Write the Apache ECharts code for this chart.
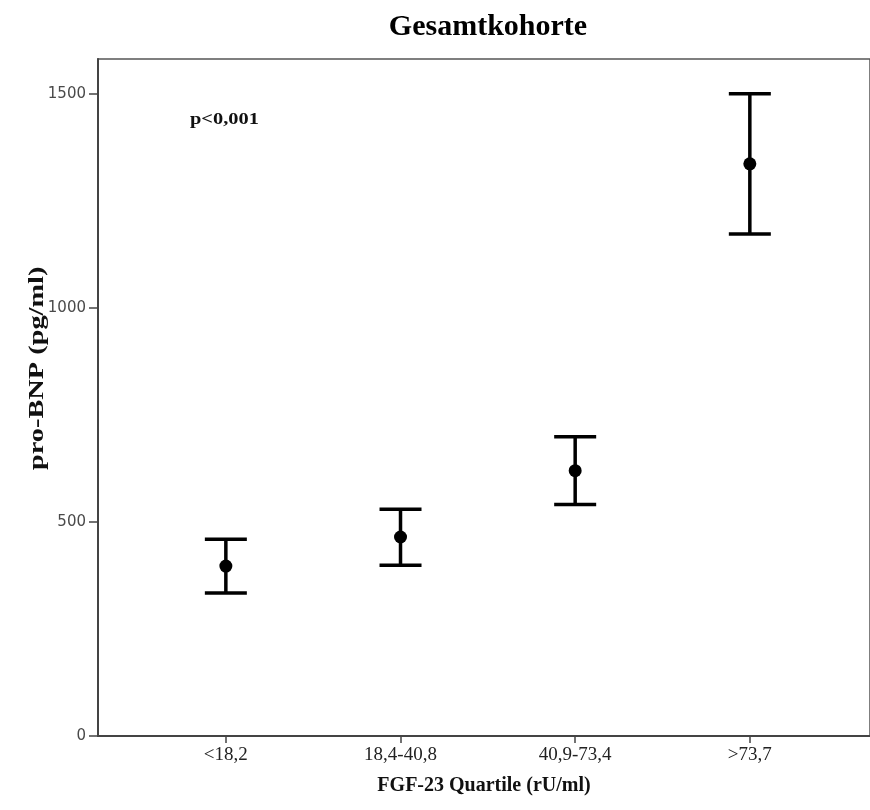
<!DOCTYPE html>
<html>
<head>
<meta charset="utf-8">
<script src="https://cdn.jsdelivr.net/npm/echarts@6/dist/echarts.min.js"></script>
<style>html,body{margin:0;padding:0;background:#fff}#c{width:870px;height:810px}</style>
</head>
<body>
<div id="c"></div>
<script>
const categories = ['<18,2', '18,4-40,8', '40,9-73,4', '>73,7'];
const means = [397, 465, 620, 1337];
const lowerCI = [334, 399, 541, 1173];
const upperCI = [460, 530, 699, 1501];
const yTicks = [0, 500, 1000, 1500];
const titleText = 'Gesamtkohorte';
const xTitle = 'FGF-23 Quartile (rU/ml)';
const yTitle = 'pro-BNP (pg/ml)';
const pText = 'p<0,001';

const catIdx = categories.map((c, i) => i);
const errData = categories.map((c, i) => [i, lowerCI[i], upperCI[i]]);
const meanData = categories.map((c, i) => [i, means[i]]);

const chart = echarts.init(document.getElementById('c'), null, {renderer: 'canvas'});
const serif = 'Liberation Serif';
chart.setOption({
  animation: false,
  backgroundColor: '#fff',
  title: {
    text: titleText, left: 483, top: 7, textAlign: 'center',
    textStyle: {fontFamily: serif, fontWeight: 'bold', fontSize: 30, color: '#000'}
  },
  grid: {left: 98, top: 59, right: -3, bottom: 74, show: true, borderColor: '#555', borderWidth: 1.5, backgroundColor: 'transparent'},
  xAxis: {
    type: 'value', min: -0.732, max: 3.688,
    splitLine: {show: false},
    axisLine: {show: true, onZero: false, lineStyle: {color: '#444', width: 2}},
    axisTick: {show: true, customValues: catIdx, length: 7, lineStyle: {color: '#444', width: 1.5}},
    axisLabel: {customValues: catIdx, formatter: v => categories[Math.round(v)], fontFamily: serif, fontSize: 19, color: '#222', margin: 10},
    name: xTitle, nameLocation: 'middle', nameGap: 40,
    nameTextStyle: {fontFamily: serif, fontWeight: 'bold', fontSize: 20, color: '#111'}
  },
  yAxis: {
    type: 'value', min: 0, max: 1582,
    splitLine: {show: false},
    axisLine: {show: true, onZero: false, lineStyle: {color: '#444', width: 2}},
    axisTick: {show: true, customValues: yTicks, length: 9, lineStyle: {color: '#444', width: 1.5}},
    axisLabel: {customValues: yTicks, formatter: v => String(v), fontFamily: 'DejaVu Sans', fontSize: 15, color: '#4a4a4a', margin: 12}
  },
  graphic: [
    {type: 'text', x: 27, y: 470, rotation: Math.PI / 2, scaleX: 1.35,
     style: {text: yTitle, fontFamily: serif, fontWeight: 'bold', fontSize: 21, fill: '#111', textAlign: 'left', textVerticalAlign: 'top'}},
    {type: 'text', x: 190, y: 111, scaleX: 1.2,
     style: {text: pText, fontFamily: serif, fontWeight: 'bold', fontSize: 17, fill: '#111'}}
  ],
  series: [
    {
      type: 'custom',
      data: errData,
      renderItem: function (params, api) {
        const x = api.value(0);
        const lo = api.coord([x, api.value(1)]);
        const hi = api.coord([x, api.value(2)]);
        const hw = 21;
        const st = {stroke: '#000', lineWidth: 3.5};
        return {
          type: 'group',
          children: [
            {type: 'line', shape: {x1: lo[0], y1: lo[1], x2: hi[0], y2: hi[1]}, style: st},
            {type: 'line', shape: {x1: lo[0] - hw, y1: lo[1], x2: lo[0] + hw, y2: lo[1]}, style: st},
            {type: 'line', shape: {x1: hi[0] - hw, y1: hi[1], x2: hi[0] + hw, y2: hi[1]}, style: st}
          ]
        };
      },
      z: 2
    },
    {
      type: 'scatter', data: meanData, symbol: 'circle', symbolSize: 13,
      itemStyle: {color: '#000', opacity: 1}, z: 3
    }
  ]
});
</script>
</body>
</html>
